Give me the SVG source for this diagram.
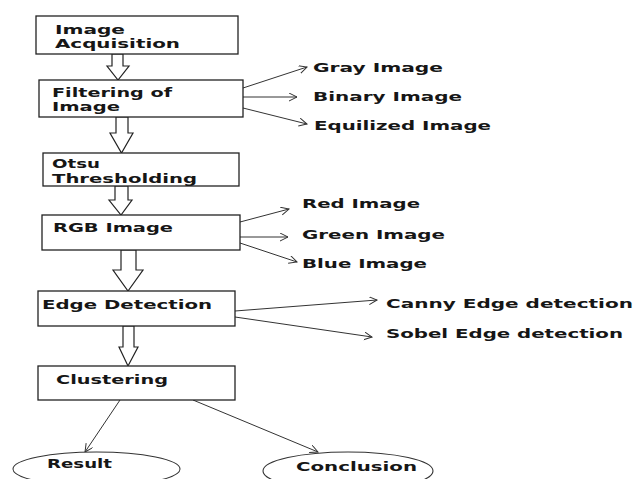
<svg xmlns="http://www.w3.org/2000/svg" width="635" height="479" viewBox="0 0 635 479">
<defs>
<marker id="open" markerWidth="10" markerHeight="10" refX="8" refY="4" orient="auto" markerUnits="userSpaceOnUse">
<path d="M0,0 L8,4 L0,8" fill="none" stroke="#333" stroke-width="1"/>
</marker>
<style>
.box{fill:#fff;stroke:#222;stroke-width:1.3}
.hol{fill:#fff;stroke:#222;stroke-width:1.2;stroke-linejoin:miter}
.t{font-family:"DejaVu Sans","Liberation Sans",sans-serif;font-weight:bold;font-size:12px;fill:#161616}
.c{fill:none;stroke:#333;stroke-width:1;marker-end:url(#open)}
.ell{fill:#fff;stroke:#333;stroke-width:1.1}
</style>
</defs>
<rect width="635" height="479" fill="#fff"/>

<g id="connectors">
<polygon class="hol" points="112,54 123,54 123,66 129,66 118,80 107,66 112,66"/>
<polygon class="hol" points="116,117 128,117 128,133 133,133 121.5,153 110,133 116,133"/>
<polygon class="hol" points="115,186 128,186 128,200 132,200 121,215 109,200 115,200"/>
<polygon class="hol" points="121,250 136,250 136,270 143,270 128,291 113,270 121,270"/>
<polygon class="hol" points="123,326 134,326 134,347 138,347 128,366 119,347 123,347"/>
<line class="c" x1="243" y1="88" x2="307" y2="67"/>
<line class="c" x1="243" y1="97" x2="297" y2="97"/>
<line class="c" x1="243" y1="108" x2="307" y2="124"/>
<line class="c" x1="240" y1="222" x2="289" y2="209"/>
<line class="c" x1="240" y1="237" x2="288" y2="237"/>
<line class="c" x1="240" y1="243" x2="297" y2="262"/>
<line class="c" x1="235" y1="311" x2="377" y2="300"/>
<line class="c" x1="235" y1="317" x2="372" y2="337"/>
<line class="c" x1="120" y1="400" x2="85" y2="452"/>
<line class="c" x1="193" y1="400" x2="318" y2="452"/>
</g>

<g id="acquisition">
<rect class="box" x="36" y="16" width="202" height="38"/>
<text class="t" x="55" y="34" textLength="70" lengthAdjust="spacingAndGlyphs">Image</text>
<text class="t" x="55" y="48" textLength="125" lengthAdjust="spacingAndGlyphs">Acquisition</text>
</g>

<g id="filtering">
<rect class="box" x="39" y="80" width="204" height="37"/>
<text class="t" x="52" y="97" textLength="120" lengthAdjust="spacingAndGlyphs">Filtering of</text>
<text class="t" x="52" y="111" textLength="68" lengthAdjust="spacingAndGlyphs">Image</text>
</g>

<g id="otsu">
<rect class="box" x="43" y="153" width="196" height="33"/>
<text class="t" x="52" y="168" textLength="48" lengthAdjust="spacingAndGlyphs">Otsu</text>
<text class="t" x="52" y="183" textLength="145" lengthAdjust="spacingAndGlyphs">Thresholding</text>
</g>

<g id="rgb">
<rect class="box" x="42" y="215" width="198" height="35"/>
<text class="t" x="53" y="232" textLength="120" lengthAdjust="spacingAndGlyphs">RGB Image</text>
</g>

<g id="edge">
<rect class="box" x="38" y="291" width="197" height="35"/>
<text class="t" x="42" y="309" textLength="170" lengthAdjust="spacingAndGlyphs">Edge Detection</text>
</g>

<g id="clustering">
<rect class="box" x="38" y="366" width="197" height="34"/>
<text class="t" x="56" y="384" textLength="112" lengthAdjust="spacingAndGlyphs">Clustering</text>
</g>

<g id="gray"><text class="t" x="313" y="72" textLength="130" lengthAdjust="spacingAndGlyphs">Gray Image</text></g>
<g id="binary"><text class="t" x="313" y="101" textLength="149" lengthAdjust="spacingAndGlyphs">Binary Image</text></g>
<g id="equilized"><text class="t" x="314" y="130" textLength="177" lengthAdjust="spacingAndGlyphs">Equilized Image</text></g>
<g id="red"><text class="t" x="302" y="208" textLength="118" lengthAdjust="spacingAndGlyphs">Red Image</text></g>
<g id="green"><text class="t" x="302" y="239" textLength="143" lengthAdjust="spacingAndGlyphs">Green Image</text></g>
<g id="blue"><text class="t" x="302" y="268" textLength="125" lengthAdjust="spacingAndGlyphs">Blue Image</text></g>
<g id="canny"><text class="t" x="386" y="308" textLength="247" lengthAdjust="spacingAndGlyphs">Canny Edge detection</text></g>
<g id="sobel"><text class="t" x="386" y="338" textLength="237" lengthAdjust="spacingAndGlyphs">Sobel Edge detection</text></g>

<g id="result">
<ellipse class="ell" cx="96.5" cy="469" rx="83.5" ry="17"/>
<text class="t" x="47" y="468" textLength="65" lengthAdjust="spacingAndGlyphs">Result</text>
</g>
<g id="conclusion">
<ellipse class="ell" cx="348" cy="471" rx="85" ry="19"/>
<text class="t" x="296" y="471" textLength="121" lengthAdjust="spacingAndGlyphs">Conclusion</text>
</g>
</svg>
